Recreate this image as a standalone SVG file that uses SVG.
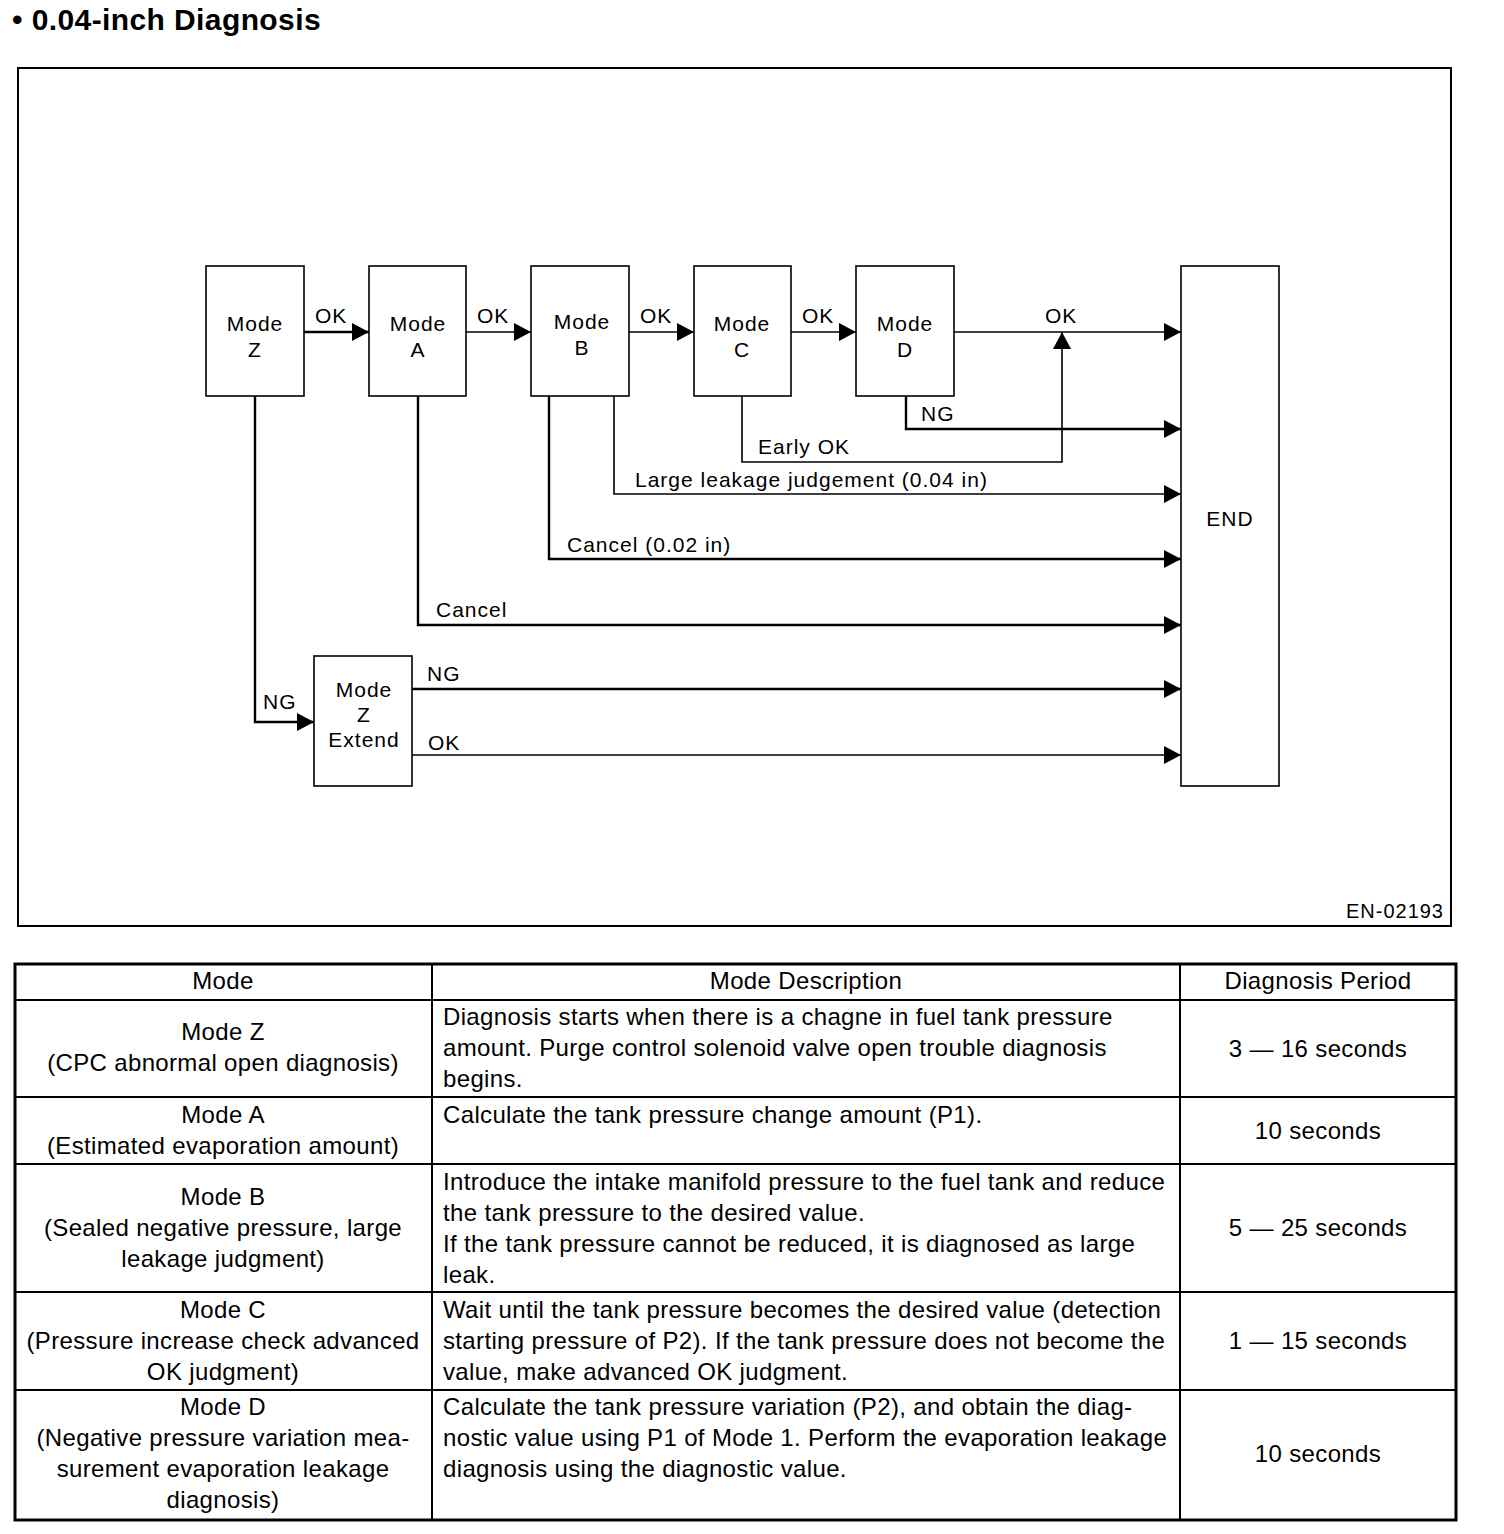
<svg xmlns="http://www.w3.org/2000/svg" width="1504" height="1534" viewBox="0 0 1504 1534">
<style>
text{font-family:"Liberation Sans",Arial,sans-serif;fill:#000}
.t{font-size:21px;letter-spacing:1px}
.c{text-anchor:middle}
.b{fill:#fff;stroke:#000;stroke-width:1.6}
.l{fill:none;stroke:#000;stroke-width:1.6}
.k{stroke-width:2.4}
.tb{font-size:24px;letter-spacing:0.35px}
.g{stroke:#000;stroke-width:2;fill:none}
</style>
<defs>
<marker id="ah" markerUnits="userSpaceOnUse" markerWidth="17" markerHeight="18" refX="17" refY="9" orient="auto" viewBox="0 0 17 18">
<path d="M0,0 L17,9 L0,18 z" fill="#000"/>
</marker>
</defs>
<rect width="1504" height="1534" fill="#fff"/>
<text x="12" y="30" style="font-size:30px;font-weight:bold;letter-spacing:0.4px">• 0.04-inch Diagnosis</text>
<rect x="18" y="68" width="1433" height="858" fill="none" stroke="#000" stroke-width="2"/>
<text x="1444" y="918" style="font-size:20px;letter-spacing:1px;text-anchor:end">EN-02193</text>

<g id="connectors">
<line class="l k" x1="304" y1="332" x2="369" y2="332" marker-end="url(#ah)"/>
<line class="l" x1="466" y1="332" x2="531" y2="332" marker-end="url(#ah)"/>
<line class="l" x1="629" y1="332" x2="694" y2="332" marker-end="url(#ah)"/>
<line class="l" x1="791" y1="332" x2="856" y2="332" marker-end="url(#ah)"/>
<line class="l" x1="954" y1="332" x2="1181" y2="332" marker-end="url(#ah)"/>
<polyline class="l" points="742,396 742,462 1062,462 1062,332" marker-end="url(#ah)"/>
<polyline class="l k" points="906,396 906,429 1181,429" marker-end="url(#ah)"/>
<polyline class="l" points="614,396 614,494 1181,494" marker-end="url(#ah)"/>
<polyline class="l k" points="549,396 549,559 1181,559" marker-end="url(#ah)"/>
<polyline class="l k" points="418,396 418,625 1181,625" marker-end="url(#ah)"/>
<polyline class="l k" points="255,396 255,722 314,722" marker-end="url(#ah)"/>
<line class="l k" x1="412" y1="689" x2="1181" y2="689" marker-end="url(#ah)"/>
<line class="l" x1="412" y1="755" x2="1181" y2="755" marker-end="url(#ah)"/>
<text class="t" x="315" y="323">OK</text>
<text class="t" x="477" y="323">OK</text>
<text class="t" x="640" y="323">OK</text>
<text class="t" x="802" y="323">OK</text>
<text class="t" x="1045" y="323">OK</text>
<text class="t" x="921" y="421">NG</text>
<text class="t" x="758" y="454">Early OK</text>
<text class="t" x="635" y="487">Large leakage judgement (0.04 in)</text>
<text class="t" x="567" y="552">Cancel (0.02 in)</text>
<text class="t" x="436" y="617">Cancel</text>
<text class="t" x="263" y="709">NG</text>
<text class="t" x="427" y="681">NG</text>
<text class="t" x="428" y="750">OK</text>
</g>

<g id="modeZ"><rect class="b" x="206" y="266" width="98" height="130"/><text class="t c" x="255" y="331">Mode</text><text class="t c" x="255" y="357">Z</text></g>
<g id="modeA"><rect class="b" x="369" y="266" width="97" height="130"/><text class="t c" x="418" y="331">Mode</text><text class="t c" x="418" y="357">A</text></g>
<g id="modeB"><rect class="b" x="531" y="266" width="98" height="130"/><text class="t c" x="582" y="329">Mode</text><text class="t c" x="582" y="355">B</text></g>
<g id="modeC"><rect class="b" x="694" y="266" width="97" height="130"/><text class="t c" x="742" y="331">Mode</text><text class="t c" x="742" y="357">C</text></g>
<g id="modeD"><rect class="b" x="856" y="266" width="98" height="130"/><text class="t c" x="905" y="331">Mode</text><text class="t c" x="905" y="357">D</text></g>
<g id="end"><rect class="b" x="1181" y="266" width="98" height="520"/><text class="t c" x="1230" y="526">END</text></g>
<g id="modeZExtend"><rect class="b" x="314" y="656" width="98" height="130"/><text class="t c" x="364" y="697">Mode</text><text class="t c" x="364" y="722">Z</text><text class="t c" x="364" y="747">Extend</text></g>

<g id="table">
<rect x="15" y="964" width="1441" height="556" fill="none" stroke="#000" stroke-width="3"/>
<line class="g" x1="432" y1="964" x2="432" y2="1520"/>
<line class="g" x1="1180" y1="964" x2="1180" y2="1520"/>
<line class="g" x1="15" y1="1000" x2="1456" y2="1000"/>
<line class="g" x1="15" y1="1097" x2="1456" y2="1097"/>
<line class="g" x1="15" y1="1164" x2="1456" y2="1164"/>
<line class="g" x1="15" y1="1292" x2="1456" y2="1292"/>
<line class="g" x1="15" y1="1390" x2="1456" y2="1390"/>
<text class="tb c" x="223" y="989">Mode</text>
<text class="tb c" x="806" y="989">Mode Description</text>
<text class="tb c" x="1318" y="989">Diagnosis Period</text>

<text class="tb c" x="223" y="1040">Mode Z</text>
<text class="tb c" x="223" y="1071">(CPC abnormal open diagnosis)</text>
<text class="tb" x="443" y="1025">Diagnosis starts when there is a chagne in fuel tank pressure</text>
<text class="tb" x="443" y="1056">amount. Purge control solenoid valve open trouble diagnosis</text>
<text class="tb" x="443" y="1087">begins.</text>
<text class="tb c" x="1318" y="1057">3 — 16 seconds</text>

<text class="tb c" x="223" y="1123">Mode A</text>
<text class="tb c" x="223" y="1154">(Estimated evaporation amount)</text>
<text class="tb" x="443" y="1123">Calculate the tank pressure change amount (P1).</text>
<text class="tb c" x="1318" y="1139">10 seconds</text>

<text class="tb c" x="223" y="1205">Mode B</text>
<text class="tb c" x="223" y="1236">(Sealed negative pressure, large</text>
<text class="tb c" x="223" y="1267">leakage judgment)</text>
<text class="tb" x="443" y="1190">Introduce the intake manifold pressure to the fuel tank and reduce</text>
<text class="tb" x="443" y="1221">the tank pressure to the desired value.</text>
<text class="tb" x="443" y="1252">If the tank pressure cannot be reduced, it is diagnosed as large</text>
<text class="tb" x="443" y="1283">leak.</text>
<text class="tb c" x="1318" y="1236">5 — 25 seconds</text>

<text class="tb c" x="223" y="1318">Mode C</text>
<text class="tb c" x="223" y="1349">(Pressure increase check advanced</text>
<text class="tb c" x="223" y="1380">OK judgment)</text>
<text class="tb" x="443" y="1318">Wait until the tank pressure becomes the desired value (detection</text>
<text class="tb" x="443" y="1349">starting pressure of P2). If the tank pressure does not become the</text>
<text class="tb" x="443" y="1380">value, make advanced OK judgment.</text>
<text class="tb c" x="1318" y="1349">1 — 15 seconds</text>

<text class="tb c" x="223" y="1415">Mode D</text>
<text class="tb c" x="223" y="1446">(Negative pressure variation mea-</text>
<text class="tb c" x="223" y="1477">surement evaporation leakage</text>
<text class="tb c" x="223" y="1508">diagnosis)</text>
<text class="tb" x="443" y="1415">Calculate the tank pressure variation (P2), and obtain the diag-</text>
<text class="tb" x="443" y="1446">nostic value using P1 of Mode 1. Perform the evaporation leakage</text>
<text class="tb" x="443" y="1477">diagnosis using the diagnostic value.</text>
<text class="tb c" x="1318" y="1462">10 seconds</text>
</g>
</svg>
